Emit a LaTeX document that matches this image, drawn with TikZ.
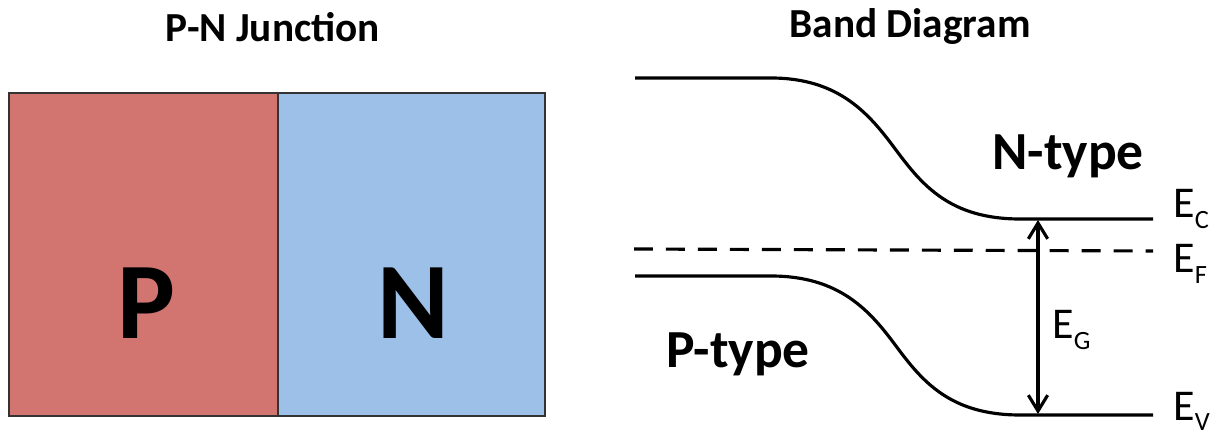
\documentclass[tikz,border=0pt]{standalone}
\usepackage{fontspec}
\setmainfont{Carlito}
\usetikzlibrary{arrows.meta}

\definecolor{pred}{HTML}{D27571}
\definecolor{nblue}{HTML}{9DC0E8}

% band label with subscript
\newcommand{\lvl}[1]{E\raisebox{-6pt}{\fontsize{15}{15}\selectfont #1}}

\begin{document}
\begin{tikzpicture}[x=0.02cm,y=-0.02cm]
    \tikzset{
        title/.style = {font = \fontsize{23.5}{25}\selectfont\bfseries},
        region/.style = {draw = black!80, line width = 0.8pt},
        bigletter/.style = {font = \fontsize{62}{64}\selectfont\bfseries},
        typelabel/.style = {font = \fontsize{30.5}{32}\selectfont\bfseries, inner sep = 0pt},
        band/.style = {line width = 1.8pt},
        fermi/.style = {band, dash pattern = on 10.8pt off 7.4pt},
        levellabel/.style = {font = \fontsize{25}{27}\selectfont, inner sep = 0pt, anchor = base west}
    }
    \useasboundingbox (0,0) rectangle (1214,435);

    % P-N junction
    \node[title] (tjunc) at (273,27) {P-N Junction};
    \filldraw[region, fill = pred]  (9,93) rectangle (278,416);
    \filldraw[region, fill = nblue] (278,93) rectangle (545,416);
    \node[bigletter] (lp) at (146,303) {P};
    \node[bigletter] (ln) at (413,303) {N};

    % band diagram
    \node[title] (tband) at (910,27) {Band Diagram};
    \coordinate (ecl) at (635,78);
    \coordinate (ecr) at (1153,219);
    \coordinate (efl) at (634,249);
    \coordinate (efr) at (1153,251);
    \coordinate (evl) at (635,276);
    \coordinate (evr) at (1153,415);
    \draw[band] (ecl) -- (771,78) .. controls (840,78) and (870,115) .. (896,150)
        .. controls (922,185) and (950,219) .. (1020,219) -- (ecr);
    \draw[band] (evl) -- (771,276) .. controls (840,276) and (870,311) .. (896,346)
        .. controls (922,381) and (950,415) .. (1020,415) -- (evr);
    \draw[fermi] (efl) -- (efr);
    \coordinate (gtop) at (1038,220);
    \coordinate (gbot) at (1038,414);
    \draw[band, {Straight Barb[length=9pt,width=11pt]}-{Straight Barb[length=9pt,width=11pt]}] (gtop) -- (gbot);

    \node[typelabel, anchor = base west] (ntype) at (992,170) {N-type};
    \node[typelabel, anchor = base west] (ptype) at (666,368) {P-type};
    \node[levellabel] (ec) at (1173,218) {\lvl{C}};
    \node[levellabel] (ef) at (1173,273) {\lvl{F}};
    \node[levellabel] (ev) at (1173,420) {\lvl{V}};
    \node[levellabel] (eg) at (1052,339) {\lvl{G}};
\end{tikzpicture}
\end{document}
